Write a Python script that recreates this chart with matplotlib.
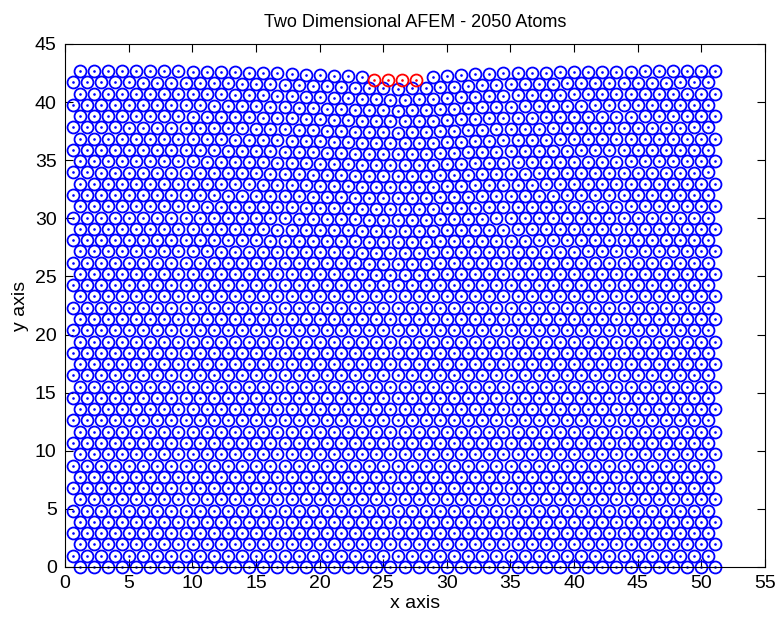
import numpy as np
import matplotlib
matplotlib.use("Agg")
import matplotlib.pyplot as plt

plt.rcParams['font.family'] = ['Liberation Sans', 'DejaVu Sans']

# crystal lattice parameters
spacing = 1.11
row_height = 0.97
n_rows = 45
atoms_per_row = 46
x_start_even = 1.15   # rows 0, 2, 4, ...
x_start_odd = 0.6     # rows 1, 3, 5, ...

# sag of the top surface under the indenter (read at these x positions)
sag_x = [0, 10, 15, 20, 23, 26, 29, 33, 40, 52]
sag_top = [0.0, -0.05, -0.15, -0.35, -0.5, -0.6, -0.5, -0.25, -0.08, 0.0]
sag_depth_rows = 20   # how far down the surface dip reaches

# indenter atoms sitting on the surface
indenter_x = [24.3, 25.4, 26.5, 27.6]
indenter_y = [41.9, 41.9, 41.9, 41.9]

xs, ys = [], []
for r in range(n_rows):
    x0 = x_start_even if r % 2 == 0 else x_start_odd
    row_x = x0 + spacing * np.arange(atoms_per_row)
    depth = max(0, sag_depth_rows - (n_rows - 1 - r)) / sag_depth_rows
    row_y = r * row_height + depth * np.interp(row_x, sag_x, sag_top)
    if r == n_rows - 1:
        keep = (row_x < 23.8) | (row_x > 28.1)
        row_x, row_y = row_x[keep], row_y[keep]
    xs.extend(row_x)
    ys.extend(row_y)
xs = np.array(xs)
ys = np.array(ys)

fig = plt.figure(figsize=(7.79, 6.23), dpi=100)
ax = fig.add_axes([0.0834, 0.0899, 0.8986, 0.8395])
ax.plot(xs, ys, 'o', mfc='none', mec='blue', ms=8.6, mew=1.3, clip_on=False)
ax.plot(xs, ys, '.', color='blue', ms=1.8, clip_on=False)
ax.plot(indenter_x, indenter_y, 'o', mfc='none', mec='red', ms=8.6, mew=1.3)
ax.plot(indenter_x, indenter_y, '.', color='red', ms=1.8)
ax.set_xlim(0, 55)
ax.set_ylim(0, 45)
ax.set_xticks(range(0, 56, 5))
ax.set_yticks(range(0, 46, 5))
ax.tick_params(direction='in', top=True, right=True, length=6, labelsize=14, pad=6)
ax.set_xlabel('x axis', fontsize=14, labelpad=2)
ax.set_ylabel('y axis', fontsize=14, labelpad=4)
ax.set_title('Two Dimensional AFEM - 2050 Atoms', fontsize=13, pad=12)
fig.savefig('out.png')
